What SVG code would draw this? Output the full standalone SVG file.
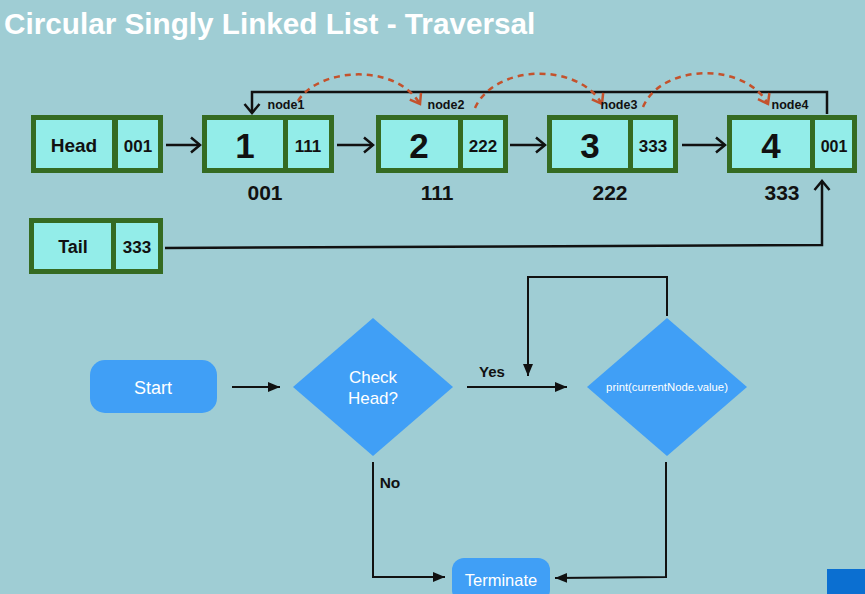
<svg xmlns="http://www.w3.org/2000/svg" width="865" height="594" viewBox="0 0 865 594">
  <style>
    .cell-frame { fill: #356b22; }
    .cell { fill: #93ede9; }
    .lbl { font-family: "Liberation Sans", Arial, sans-serif; font-weight: bold; fill: #111; text-anchor: middle; }
    .flow { fill: #409ff6; }
    .ftxt { font-family: "Liberation Sans", Arial, sans-serif; fill: #ffffff; text-anchor: middle; }
    .link { fill: none; stroke: #111; stroke-width: 2.5; }
    .jump { fill: none; stroke: #c4522c; stroke-width: 2.5; stroke-dasharray: 6 5; }
    .fline { fill: none; stroke: #111; stroke-width: 2; }
  </style>
  <defs>
    <marker id="open" markerUnits="userSpaceOnUse" markerWidth="14" markerHeight="18" refX="11" refY="9" orient="auto">
      <path d="M2,1.5 L11,9 L2,16.5" fill="none" stroke="#111" stroke-width="2.5"/>
    </marker>
    <marker id="openRed" markerUnits="userSpaceOnUse" markerWidth="14" markerHeight="16" refX="11" refY="8" orient="auto">
      <path d="M2,1.5 L11,8 L2,14.5" fill="none" stroke="#c4522c" stroke-width="2.5"/>
    </marker>
    <marker id="tri" markerUnits="userSpaceOnUse" markerWidth="14" markerHeight="12" refX="12" refY="6" orient="auto">
      <path d="M0,1 L12,6 L0,11 Z" fill="#111"/>
    </marker>
  </defs>

  <rect width="865" height="594" fill="#9fcdd4"/>

  <text x="4" y="34" font-family="'Liberation Sans', Arial, sans-serif" font-weight="bold" font-size="29.7" fill="#ffffff">Circular Singly Linked List - Traversal</text>

  <!-- linked list pointers -->
  <g id="connectors">
    <path class="link" d="M166,145 L200,145" marker-end="url(#open)"/>
    <path class="link" d="M337,145 L373,145" marker-end="url(#open)"/>
    <path class="link" d="M510,145 L545,145" marker-end="url(#open)"/>
    <path class="link" d="M682,145 L725,145" marker-end="url(#open)"/>
    <!-- last node back to first -->
    <path class="link" d="M827,114 L827,92 L252,92 L252,113" marker-end="url(#open)"/>
    <!-- tail pointer -->
    <path class="link" d="M165,248 L822,245 L822,181" marker-end="url(#open)"/>
    <!-- traversal hops -->
    <path class="jump" d="M298,101 C318,68 395,62 420,104" marker-end="url(#openRed)"/>
    <path class="jump" d="M475,108 C495,64 578,62 602,104" marker-end="url(#openRed)"/>
    <path class="jump" d="M643,107 C662,63 745,62 768,104" marker-end="url(#openRed)"/>

    <!-- flowchart edges -->
    <path class="fline" d="M232,387 L280,387" marker-end="url(#tri)"/>
    <path class="fline" d="M467,387 L567,387" marker-end="url(#tri)"/>
    <path class="fline" d="M667,316 L667,277 L528,277 L528,376" marker-end="url(#tri)"/>
    <path class="fline" d="M373,462 L373,577 L445,577" marker-end="url(#tri)"/>
    <path class="fline" d="M666,462 L666,577 L555,578" marker-end="url(#tri)"/>
  </g>

  <g id="head">
    <rect class="cell-frame" x="31" y="115" width="132" height="58"/>
    <rect class="cell" x="36" y="120" width="76" height="48"/>
    <rect class="cell" x="118" y="120" width="40" height="48"/>
    <text class="lbl" x="74" y="152" font-size="19">Head</text>
    <text class="lbl" x="138" y="152" font-size="17">001</text>
  </g>

  <g id="node1">
    <rect class="cell-frame" x="202" y="115" width="132" height="58"/>
    <rect class="cell" x="207" y="120" width="76" height="48"/>
    <rect class="cell" x="288" y="120" width="41" height="48"/>
    <text class="lbl" x="245" y="158" font-size="35">1</text>
    <text class="lbl" x="308" y="152" font-size="17">111</text>
    <text class="lbl" x="286" y="109" font-size="12.5">node1</text>
    <text class="lbl" x="265" y="200" font-size="21">001</text>
  </g>

  <g id="node2">
    <rect class="cell-frame" x="376" y="115" width="132" height="58"/>
    <rect class="cell" x="381" y="120" width="77" height="48"/>
    <rect class="cell" x="463" y="120" width="40" height="48"/>
    <text class="lbl" x="419" y="158" font-size="35">2</text>
    <text class="lbl" x="483" y="152" font-size="17">222</text>
    <text class="lbl" x="446" y="109" font-size="12.5">node2</text>
    <text class="lbl" x="437" y="200" font-size="21">111</text>
  </g>

  <g id="node3">
    <rect class="cell-frame" x="547" y="115" width="131" height="58"/>
    <rect class="cell" x="552" y="120" width="76" height="48"/>
    <rect class="cell" x="633" y="120" width="40" height="48"/>
    <text class="lbl" x="590" y="158" font-size="35">3</text>
    <text class="lbl" x="653" y="152" font-size="17">333</text>
    <text class="lbl" x="619" y="109" font-size="12.5">node3</text>
    <text class="lbl" x="610" y="200" font-size="21">222</text>
  </g>

  <g id="node4">
    <rect class="cell-frame" x="727" y="115" width="130" height="58"/>
    <rect class="cell" x="732" y="120" width="78" height="48"/>
    <rect class="cell" x="815" y="120" width="37" height="48"/>
    <text class="lbl" x="771" y="158" font-size="35">4</text>
    <text class="lbl" x="834" y="152" font-size="16">001</text>
    <text class="lbl" x="790" y="109" font-size="12.5">node4</text>
    <text class="lbl" x="782" y="200" font-size="21">333</text>
  </g>

  <g id="tail">
    <rect class="cell-frame" x="29" y="218" width="134" height="56"/>
    <rect class="cell" x="34" y="223" width="77" height="46"/>
    <rect class="cell" x="116" y="223" width="42" height="46"/>
    <text class="lbl" x="73" y="253" font-size="18">Tail</text>
    <text class="lbl" x="137" y="253" font-size="17">333</text>
  </g>

  <g id="start">
    <rect class="flow" x="90" y="360" width="127" height="53" rx="15"/>
    <text class="ftxt" x="153" y="394" font-size="18">Start</text>
  </g>

  <g id="check-head">
    <polygon class="flow" points="373,318 453,387 373,456 293,387"/>
    <text class="ftxt" x="373" y="383" font-size="17">Check</text>
    <text class="ftxt" x="373" y="404" font-size="17">Head?</text>
  </g>

  <g id="print-node">
    <polygon class="flow" points="667,318 747,387 667,456 587,387"/>
    <text class="ftxt" x="667" y="391" font-size="11.3">print(currentNode.value)</text>
  </g>

  <g id="terminate">
    <rect class="flow" x="452" y="558" width="98" height="44" rx="12"/>
    <text class="ftxt" x="501" y="586" font-size="16.5">Terminate</text>
  </g>

  <g id="edge-labels">
    <text class="lbl" x="492" y="377" font-size="15">Yes</text>
    <text class="lbl" x="390" y="488" font-size="15.5">No</text>
  </g>

  <rect x="827" y="569" width="38" height="25" fill="#0b6fd1"/>
</svg>
